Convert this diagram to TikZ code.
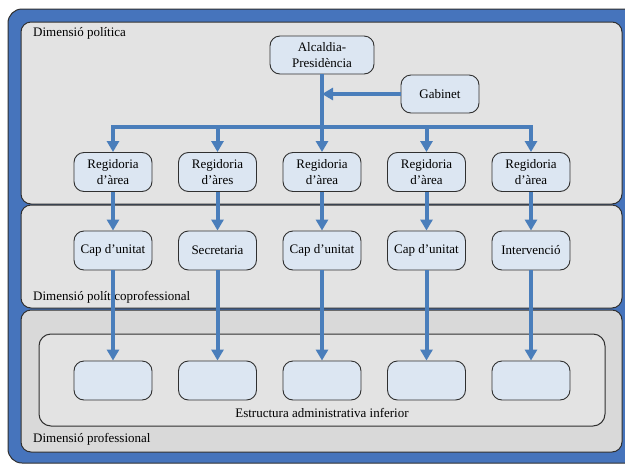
\documentclass[tikz,border=0pt]{standalone}
\usepackage{fontspec}
\setmainfont{Liberation Serif}
\usetikzlibrary{arrows.meta}
\definecolor{frameblue}{HTML}{4674BC}
\definecolor{linkblue}{HTML}{4A7EBB}
\definecolor{boxfill}{HTML}{DCE6F2}
\definecolor{panelgray}{HTML}{E3E3E3}
\definecolor{basegray}{HTML}{D9D9D9}
\definecolor{edge}{HTML}{303030}
\tikzset{
  panel/.style={draw=edge, line width=1pt, fill=panelgray, rounded corners=10pt},
  unit/.style={draw=edge, line width=0.9pt, fill=boxfill, rounded corners=10pt,
    minimum width=78pt, minimum height=39pt, align=center, inner sep=2pt,
    font=\fontsize{13}{16}\selectfont},
  tag/.style={anchor=west, inner sep=0pt, font=\fontsize{13}{16}\selectfont},
  link/.style={draw=linkblue, line width=4pt,
    -{Triangle[length=11pt,width=12pt]}, shorten >=0pt},
  plain/.style={draw=linkblue, line width=4pt}
}
\begin{document}
\begin{tikzpicture}[x=1pt,y=-1pt]
\useasboundingbox (0,0) rectangle (625,464);
\clip (0,0) rectangle (625,464);
\fill[white] (0,0) rectangle (625,464);

% outer frame
\draw[draw=edge, line width=1pt, fill=frameblue, rounded corners=14pt] (8,9) rectangle (645,463);

% three dimension panels
\draw[panel] (21,22) rectangle (622,204);
\draw[panel] (21,205) rectangle (622,308);
\draw[panel, fill=basegray] (21,310) rectangle (622,452);
% lower administrative structure
\draw[panel, rounded corners=12pt] (39,334) rectangle (605,426);

% panel labels
\node[tag] (lpol) at (33,33) {Dimensió política};
\node[tag] (lmix) at (33,297) {Dimensió políticoprofessional};
\node[tag] (lpro) at (33,439) {Dimensió professional};
\node[inner sep=0pt, font=\fontsize{13}{16}\selectfont] (lest) at (322,413) {Estructura administrativa inferior};

% top level
\node[unit, minimum width=104pt, minimum height=38pt] (alc) at (322,55) {Alcaldia-\\Presidència};
\node[unit, minimum height=38pt] (gab) at (440,94) {Gabinet};

% councillor row
\node[unit] (r1) at (113,172) {Regidoria\\d’àrea};
\node[unit] (r2) at (217.5,172) {Regidoria\\d’àres};
\node[unit] (r3) at (322,172) {Regidoria\\d’àrea};
\node[unit] (r4) at (426.5,172) {Regidoria\\d’àrea};
\node[unit] (r5) at (531,172) {Regidoria\\d’àrea};

% unit heads row
\node[unit] (c1) at (113,250.5) {Cap d’unitat};
\node[unit] (c2) at (217.5,250.5) {Secretaria};
\node[unit] (c3) at (322,250.5) {Cap d’unitat};
\node[unit] (c4) at (426.5,250.5) {Cap d’unitat};
\node[unit] (c5) at (531,250.5) {Intervenció};

% lower boxes
\node[unit] (b1) at (113,380.5) {};
\node[unit] (b2) at (217.5,380.5) {};
\node[unit] (b3) at (322,380.5) {};
\node[unit] (b4) at (426.5,380.5) {};
\node[unit] (b5) at (531,380.5) {};

% distribution bar
\coordinate (bar) at (322,127);
\draw[plain] (alc.south) -- (alc.south |- bar);
\foreach \r in {r1,r2,r3,r4,r5}{
  \draw[link] (alc.south |- bar) -| (\r.north);
}
\draw[link] (gab.west) -- (gab.west -| alc.south);

% vertical links
\foreach \a/\b in {r1/c1,r2/c2,r3/c3,r4/c4,r5/c5,c1/b1,c2/b2,c3/b3,c4/b4,c5/b5}{
  \draw[link] (\a.south) -- (\b.north);
}
\end{tikzpicture}
\end{document}
